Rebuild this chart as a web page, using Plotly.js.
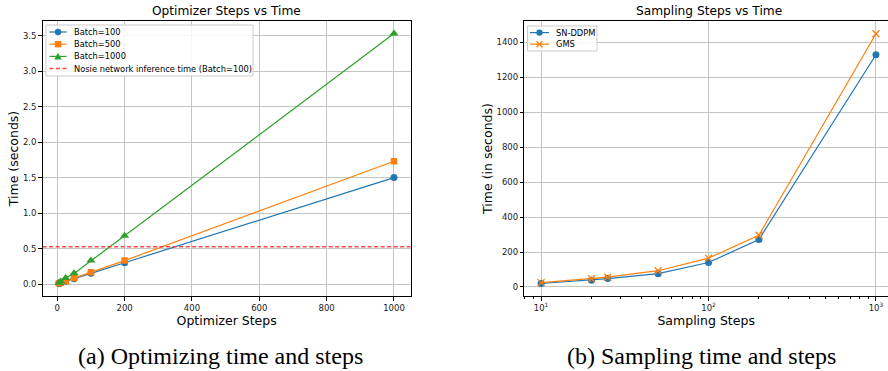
<!DOCTYPE html>
<html><head><meta charset="utf-8">
<script src="https://cdn.plot.ly/plotly-3.0.1.min.js"></script>
<style>html,body{margin:0;padding:0;background:#fff}#c{width:888px;height:371px}</style>
</head><body><div id="c"></div>
<script>
// Left panel: optimizer steps vs time
const optSteps = [5, 10, 25, 50, 100, 200, 1000];
const batch100 = [0.008, 0.015, 0.038, 0.075, 0.15, 0.30, 1.50];
const batch500 = [0.009, 0.017, 0.043, 0.086, 0.165, 0.33, 1.73];
const batch1000 = [0.017, 0.035, 0.085, 0.15, 0.33, 0.68, 3.53];
const noiseTime = 0.525;
const noiseLabel = 'Nosie network inference time (Batch=100)';
// Right panel: sampling steps vs time
const sampSteps = [10, 20, 25, 50, 100, 200, 1000];
const snddpm = [20, 38, 48, 76, 140, 271, 1328];
const gms = [25, 47, 56, 93, 165, 296, 1448];
const optTicks = [0, 200, 400, 600, 800, 1000];
const timeTicks = [0, 0.5, 1, 1.5, 2, 2.5, 3, 3.5];
const sampTicks = [10, 100, 1000];
const sampTickText = ['10<sup>1</sup>', '10<sup>2</sup>', '10<sup>3</sup>'];
const sampTimeTicks = [0, 200, 400, 600, 800, 1000, 1200, 1400];

const blue = '#1f77b4', orange = '#ff7f0e', green = '#2ca02c', red = 'rgba(255,40,40,0.85)';
const F = 'DejaVu Sans, sans-serif';
const grid = '#c4c4c4';

function tr(x, y, name, color, symbol, size, xa, ya, extra) {
  const m = {symbol: symbol, size: size, color: color};
  if (extra) m.line = {color: color, width: 1.3};
  return {x: x, y: y, name: name, mode: 'lines+markers', line: {color: color, width: 1.2}, marker: m, xaxis: xa, yaxis: ya};
}
const traces = [
  tr(optSteps, batch100, 'Batch=100', blue, 'circle', 7, 'x', 'y'),
  tr(optSteps, batch500, 'Batch=500', orange, 'square', 6.5, 'x', 'y'),
  tr(optSteps, batch1000, 'Batch=1000', green, 'triangle-up', 8, 'x', 'y'),
  tr(sampSteps, snddpm, 'SN-DDPM', blue, 'circle', 7, 'x2', 'y2'),
  tr(sampSteps, gms, 'GMS', orange, 'x-thin', 7, 'x2', 'y2', true)
];

// pixel -> paper helpers for the hand-drawn legends (plot area y: 21..296)
const PX = p => p / 888, PY = p => (296 - p) / 275;
const shapes = [
  {type: 'line', xref: 'x domain', x0: 0, x1: 1, yref: 'y', y0: noiseTime, y1: noiseTime, layer: 'above',
    line: {color: red, width: 1.5, dash: '4px,2.5px'}}
];
const annotations = [];
function legend(box, rows, lx0, lx1, tx, items) {
  shapes.push({type: 'rect', xref: 'paper', yref: 'paper', x0: PX(box[0]), x1: PX(box[2]), y0: PY(box[3]), y1: PY(box[1]),
    fillcolor: 'rgba(255,255,255,0.85)', line: {color: '#cccccc', width: 1}, layer: 'above'});
  items.forEach((it, i) => {
    const cy = rows[i], cx = (lx0 + lx1) / 2;
    shapes.push({type: 'line', xref: 'paper', yref: 'paper', x0: PX(lx0), x1: PX(lx1), y0: PY(cy), y1: PY(cy), layer: 'above',
      line: {color: it.color, width: it.dash ? 1.5 : 1.2, dash: it.dash || 'solid'}});
    const r = 3.2;
    if (it.symbol === 'circle') shapes.push({type: 'circle', xref: 'paper', yref: 'paper', x0: PX(cx - r), x1: PX(cx + r), y0: PY(cy + r), y1: PY(cy - r), fillcolor: it.color, line: {width: 0}, layer: 'above'});
    if (it.symbol === 'square') shapes.push({type: 'rect', xref: 'paper', yref: 'paper', x0: PX(cx - r), x1: PX(cx + r), y0: PY(cy + r), y1: PY(cy - r), fillcolor: it.color, line: {width: 0}, layer: 'above'});
    if (it.symbol === 'triangle-up') shapes.push({type: 'path', xref: 'paper', yref: 'paper', path: `M ${PX(cx - 3.7)} ${PY(cy + 3)} L ${PX(cx + 3.7)} ${PY(cy + 3)} L ${PX(cx)} ${PY(cy - 3.7)} Z`, fillcolor: it.color, line: {width: 0}, layer: 'above'});
    if (it.symbol === 'x-thin') {
      shapes.push({type: 'line', xref: 'paper', yref: 'paper', x0: PX(cx - 3), x1: PX(cx + 3), y0: PY(cy - 3), y1: PY(cy + 3), line: {color: it.color, width: 1.3}, layer: 'above'});
      shapes.push({type: 'line', xref: 'paper', yref: 'paper', x0: PX(cx - 3), x1: PX(cx + 3), y0: PY(cy + 3), y1: PY(cy - 3), line: {color: it.color, width: 1.3}, layer: 'above'});
    }
    annotations.push({text: it.name, xref: 'paper', yref: 'paper', x: PX(tx), y: PY(cy), xanchor: 'left', yanchor: 'middle', showarrow: false, borderpad: 0,
      font: {family: F, size: 8.3, color: '#000'}});
  });
}
const legA = traces.slice(0, 3).map(t => ({name: t.name, color: t.line.color, symbol: t.marker.symbol}));
legA.push({name: noiseLabel, color: red, dash: '4px,2.5px'});
legend([46, 25, 253, 76], [32, 44.2, 56.4, 68.6], 49.5, 66.5, 72.5, legA);
const legB = traces.slice(3).map(t => ({name: t.name, color: t.line.color, symbol: t.marker.symbol}));
legend([527.5, 26, 597, 51], [32.6, 44.2], 530, 549, 554.5, legB);

annotations.push(
  {text: 'Optimizer Steps vs Time', xref: 'x domain', x: 0.5, yref: 'paper', y: 1, yanchor: 'bottom', yshift: 1, showarrow: false, font: {family: F, size: 12.2, color: '#000'}},
  {text: 'Sampling Steps vs Time', xref: 'paper', x: 708.5 / 888, xanchor: 'center', yref: 'paper', y: 1, yanchor: 'bottom', yshift: 1, showarrow: false, font: {family: F, size: 12.2, color: '#000'}},
  {text: '(a) Optimizing time and steps', xref: 'paper', x: 220 / 888, xanchor: 'center', yref: 'paper', y: -0.218, yanchor: 'middle', showarrow: false, font: {family: 'Liberation Serif, Times New Roman, serif', size: 24, color: '#000'}},
  {text: '(b) Sampling time and steps', xref: 'paper', x: 701 / 888, xanchor: 'center', yref: 'paper', y: -0.218, yanchor: 'middle', showarrow: false, font: {family: 'Liberation Serif, Times New Roman, serif', size: 24, color: '#000'}}
);

const tickFont = {family: F, size: 8.5, color: '#1a1a1a'};
const axTitleFont = {family: F, size: 12.5, color: '#000'};
const common = {showgrid: true, gridcolor: grid, gridwidth: 1, zeroline: false, showline: true, linecolor: '#000', linewidth: 1,
  ticks: 'outside', ticklen: 3.5, tickcolor: '#000', tickfont: tickFont};

const layout = {
  width: 888, height: 371,
  margin: {l: 0, r: 0, t: 21, b: 75},
  paper_bgcolor: '#fff', plot_bgcolor: '#fff',
  font: {family: F}, showlegend: false,
  xaxis: Object.assign({}, common, {domain: [0.048, 0.4625], range: [-43.4, 1049.6], tickvals: optTicks, mirror: true,
    title: {text: 'Optimizer Steps', font: axTitleFont, standoff: 3}}),
  yaxis: Object.assign({}, common, {domain: [0, 1], range: [-0.169, 3.707], tickvals: timeTicks, tickformat: '.1f', mirror: true,
    title: {text: 'Time (seconds)', font: axTitleFont, standoff: 1}}),
  xaxis2: Object.assign({}, common, {domain: [0.5905, 1], type: 'log', range: [0.9, 3.072], tickvals: sampTicks, ticktext: sampTickText,
    minor: {tickvals: [8, 9, 20, 30, 40, 50, 60, 70, 80, 90, 200, 300, 400, 500, 600, 700, 800, 900], ticks: 'outside', ticklen: 2, tickcolor: '#000', showgrid: false},
    mirror: true, anchor: 'y2', title: {text: 'Sampling Steps', font: axTitleFont, standoff: 3}}),
  yaxis2: Object.assign({}, common, {domain: [0, 1], range: [-51.6, 1521], tickvals: sampTimeTicks, anchor: 'x2', mirror: false,
    title: {text: 'Time (in seconds)', font: axTitleFont, standoff: 1}}),
  shapes: shapes,
  annotations: annotations
};
Plotly.newPlot('c', traces, layout, {displayModeBar: false, staticPlot: true});
</script></body></html>
